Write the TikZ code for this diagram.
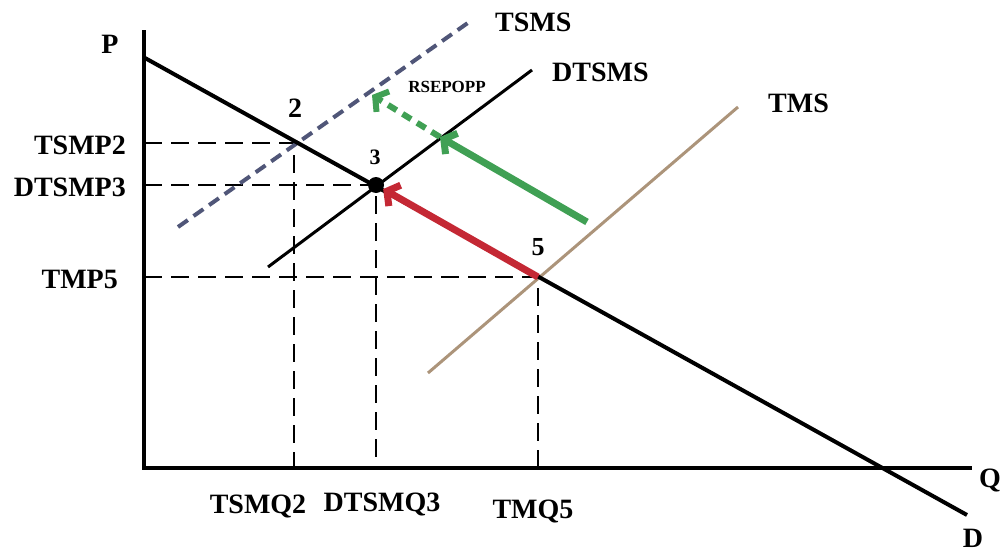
\documentclass[tikz,border=0pt]{standalone}
\usepackage{fontspec}
\setmainfont{Liberation Serif}
\usetikzlibrary{arrows.meta,positioning}
\definecolor{slate}{RGB}{80,86,120}
\definecolor{tan}{RGB}{172,148,122}
\definecolor{grn}{RGB}{64,160,84}
\definecolor{rd}{RGB}{196,40,52}
\begin{document}
\begin{tikzpicture}[x=1pt, y=-1pt]
    % Styles
    \tikzstyle{axis} = [line width=4pt]
    \tikzstyle{guide} = [line width=2pt, dash pattern=on 18pt off 9pt]
    \tikzstyle{curve} = [line width=3.5pt]
    \tikzstyle{lbl} = [font=\bfseries\fontsize{28}{30}\selectfont, inner sep=0pt]
    \tikzstyle{small} = [font=\bfseries\fontsize{17}{19}\selectfont, inner sep=0pt]
    \tikzstyle{move} = [line width=7pt, -{Straight Barb[length=9pt,width=24pt]}]

    \useasboundingbox (0,0) rectangle (1002,554);

    % Points
    \coordinate (o) at (144,468);
    \coordinate (ytop) at (144,30);
    \coordinate (xend) at (972,468);
    \coordinate (dA) at (145,58);
    \coordinate (dB) at (967,515);
    \coordinate (p2) at (294,143);
    \coordinate (p5) at (538,277);
    \coordinate (tsmsA) at (178,227);
    \coordinate (tsmsB) at (472,20);
    \coordinate (dtsmsA) at (268,267);
    \coordinate (dtsmsB) at (532,70);
    \coordinate (tmsA) at (428,373);
    \coordinate (tmsB) at (738,107);
    \coordinate (gA) at (587,222);
    \coordinate (gB) at (440,137);
    \coordinate (gC) at (372,95);
    \node [circle, fill, inner sep=0pt, minimum size=16pt] (p3) at (376,185) {};

    % Guides
    \draw [guide] (p2 -| o) -- (p2) -- (p2 |- o);
    \draw [guide] (p3.center -| o) -- (p3.center) -- (p3.center |- o);
    \draw [guide] (p5 -| o) -- (p5) -- (p5 |- o);

    % Curves
    \draw [curve, tan, line width=3pt] (tmsA) -- (tmsB);
    \draw [curve, slate, line width=4pt, dash pattern=on 12pt off 7pt] (tsmsA) -- (tsmsB);
    \draw [curve, line width=3pt] (dtsmsA) -- (dtsmsB);
    \draw [curve, line width=4pt] (dA) -- (dB);

    % Axes
    \draw [axis] (ytop) -- (o) -- (xend);

    % Arrows
    \draw [move, grn] (gA) -- (gB);
    \draw [move, grn, line width=6pt, dash pattern=on 10pt off 7pt] (gB) -- (gC);
    \draw [move, rd] (p5) -- (p3);

    % Labels
    \node [lbl] (lP) at (110,44) {P};
    \node [lbl, anchor=east] (lTSMP2) at (126,145) {TSMP2};
    \node [lbl, anchor=east] (lDTSMP3) at (126,187) {DTSMP3};
    \node [lbl, anchor=east] (lTMP5) at (118,279) {TMP5};
    \node [lbl] (lTSMQ2) at (258,506) {TSMQ2};
    \node [lbl] (lDTSMQ3) at (382,504) {DTSMQ3};
    \node [lbl] (lTMQ5) at (533,511) {TMQ5};
    \node [lbl] (lQ) at (990,480) {Q};
    \node [lbl] (lD) at (973,538) {D};
    \node [lbl, anchor=west] (lTSMS) at (495,22) {TSMS};
    \node [lbl, anchor=west] (lDTSMS) at (552,72) {DTSMS};
    \node [lbl, anchor=west] (lTMS) at (768,103) {TMS};
    \node [small] (lRSE) at (447,87) {RSEPOPP};
    \node [lbl, font=\bfseries\fontsize{28}{30}\selectfont] (l2) at (295,108) {2};
    \node [lbl, font=\bfseries\fontsize{22}{24}\selectfont] (l3) at (375,157) {3};
    \node [lbl, font=\bfseries\fontsize{26}{28}\selectfont] (l5) at (538,247) {5};
\end{tikzpicture}
\end{document}
